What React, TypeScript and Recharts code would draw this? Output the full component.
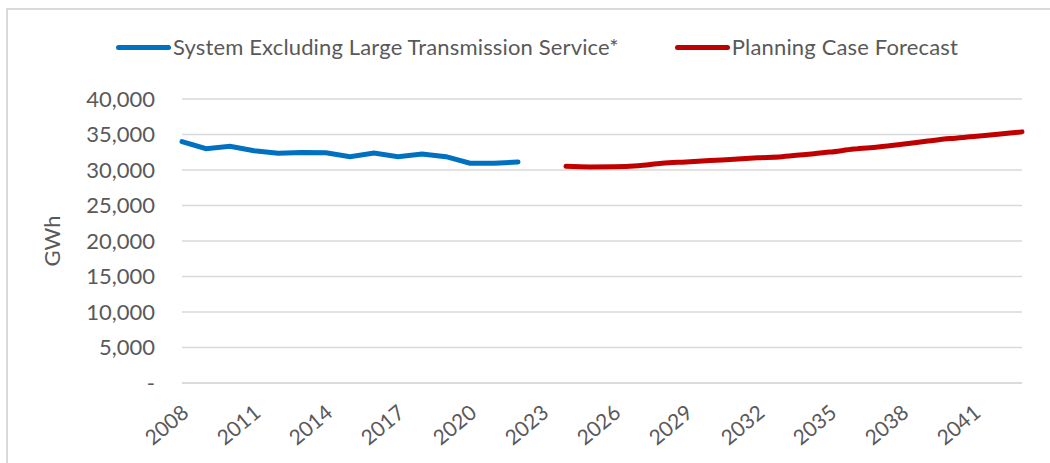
import { LineChart, Line, XAxis, YAxis, CartesianGrid, Label } from 'recharts'

const years = [
  2008, 2009, 2010, 2011, 2012, 2013, 2014, 2015, 2016, 2017, 2018, 2019,
  2020, 2021, 2022, 2023, 2024, 2025, 2026, 2027, 2028, 2029, 2030, 2031,
  2032, 2033, 2034, 2035, 2036, 2037, 2038, 2039, 2040, 2041, 2042, 2043,
]

// historical, 2008-2022
const systemValues = [
  34000, 33000, 33350, 32700, 32350, 32480, 32440, 31880, 32380, 31880, 32250,
  31880, 30950, 30950, 31130,
]

// forecast, 2024-2043
const forecastValues = [
  30520, 30440, 30460, 30610, 30950, 31140, 31330, 31520, 31710, 31880, 32190,
  32520, 32950, 33240, 33620, 34040, 34430, 34710, 35040, 35370,
]

const yTicks = [0, 5000, 10000, 15000, 20000, 25000, 30000, 35000, 40000]

const seriesNames = {
  system: 'System Excluding Large Transmission Service*',
  forecast: 'Planning Case Forecast',
}

const FONT = 'Lato, "Open Sans", sans-serif'
const TEXT = '#595959'
const GRID = '#d9d9d9'
const BLUE = '#0070C0'
const RED = '#C00000'

const forecastStart = years.indexOf(2024)

const data = years.map((year, i) => ({
  year: String(year),
  system: i < systemValues.length ? systemValues[i] : null,
  forecast: i >= forecastStart ? forecastValues[i - forecastStart] : null,
}))

const formatTick = (v: number) => (v === 0 ? '-' : v.toLocaleString('en-US'))

const XTick = ({ x, y, payload }: any) => (
  <text
    x={x + 8}
    y={y + 24}
    transform={`rotate(-40 ${x + 8} ${y + 24})`}
    textAnchor="end"
    fill={TEXT}
    fontSize={21}
    fontFamily={FONT}
  >
    {payload.value}
  </text>
)

const legendItems = [
  { name: seriesNames.system, color: BLUE },
  { name: seriesNames.forecast, color: RED },
]

export default function App() {
  return (
    <div style={{ position: 'absolute', left: 0, top: 0, width: 1050, height: 463, background: '#fff', overflow: 'hidden' }}>
      <div
        style={{
          position: 'absolute',
          left: 6,
          top: 8,
          width: 1100,
          height: 500,
          borderTop: `2px solid ${GRID}`,
          borderLeft: `2px solid ${GRID}`,
        }}
      />
      <LineChart
        width={1050}
        height={463}
        data={data}
        margin={{ top: 99, right: 28, bottom: 0, left: 20 }}
        style={{ position: 'absolute', left: 0, top: 0 }}
      >
        <CartesianGrid vertical={false} stroke={GRID} strokeWidth={1.5} />
        <XAxis
          dataKey="year"
          interval={2}
          tickLine={false}
          axisLine={{ stroke: GRID, strokeWidth: 1.5 }}
          tick={<XTick />}
          height={80}
        />
        <YAxis
          domain={[0, 40000]}
          ticks={yTicks}
          tickFormatter={formatTick}
          axisLine={false}
          tickLine={false}
          width={162}
          tickMargin={21}
          tick={{ fill: TEXT, fontSize: 22, fontFamily: FONT }}
        >
          <Label
            value="GWh"
            angle={-90}
            position="insideLeft"
            offset={32}
            style={{ fill: TEXT, fontSize: 22, fontFamily: FONT, textAnchor: 'middle' }}
          />
        </YAxis>
        <Line
          dataKey="system"
          name={seriesNames.system}
          stroke={BLUE}
          strokeWidth={5}
          dot={false}
          strokeLinecap="round"
          isAnimationActive={false}
        />
        <Line
          dataKey="forecast"
          name={seriesNames.forecast}
          type="monotone"
          stroke={RED}
          strokeWidth={5}
          dot={false}
          strokeLinecap="round"
          isAnimationActive={false}
        />
      </LineChart>
      <div style={{ position: 'absolute', top: 33, left: 116, display: 'flex', fontFamily: FONT, fontSize: 22, letterSpacing: 0.15, color: TEXT }}>
        {legendItems.map((item, i) => (
          <div key={i} style={{ display: 'flex', alignItems: 'center', marginRight: 56 }}>
            <span style={{ width: 55, height: 5, borderRadius: 3, background: item.color, display: 'inline-block' }} />
            <span style={{ marginLeft: 2, lineHeight: '28px' }}>{item.name}</span>
          </div>
        ))}
      </div>
    </div>
  )
}
